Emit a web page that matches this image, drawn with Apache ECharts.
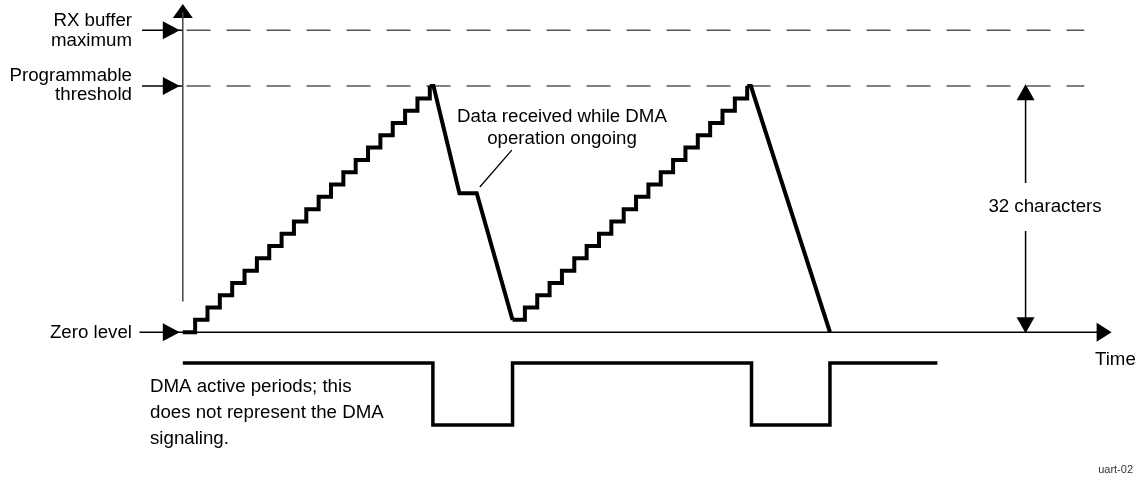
<!DOCTYPE html>
<html>
<head>
<meta charset="utf-8">
<script src="https://cdn.jsdelivr.net/npm/echarts@6/dist/echarts.min.js"></script>
<style>
  html, body { margin: 0; padding: 0; background: #fff; }
  #chart { width: 1135px; height: 481px; }
</style>
</head>
<body>
<div id="chart"></div>
<script>
// x in "character times" (one step = one received character), y in characters held in buffer
const zeroLevel = 0;
const thresholdLevel = 20;
const bufferMaxLevel = 24.55;

// first fill: one step per received character
const fill1X = [0, 1, 2, 3, 4, 5, 6, 7, 8, 9, 10, 11, 12, 13, 14, 15, 16, 17, 18, 19, 20];
const fill1Level = [0, 1, 2, 3, 4, 5, 6, 7, 8, 9, 10, 11, 12, 13, 14, 15, 16, 17, 18, 19, 20];

// DMA drain, with a character received in the middle of it
const drain1X = [20, 20.3, 22.4, 23.8, 26.7];
const drain1Level = [20, 20, 11.3, 11.3, 1];

// second fill
const fill2X = [26.7, 27.7, 28.7, 29.7, 30.7, 31.7, 32.7, 33.7, 34.7, 35.7, 36.7, 37.7, 38.7, 39.7, 40.7, 41.7, 42.7, 43.7, 44.7, 45.7];
const fill2Level = [1, 2, 3, 4, 5, 6, 7, 8, 9, 10, 11, 12, 13, 14, 15, 16, 17, 18, 19, 20];

// second drain down to zero
const drain2X = [45.7, 46.0, 52.4];
const drain2Level = [20, 20, 0];

// DMA active periods (high = idle, low = DMA running)
const dmaX = [0, 20.25, 20.25, 26.7, 26.7, 46.05, 46.05, 52.4, 52.4, 61.1];
const dmaLevel = [-2.5, -2.5, -7.55, -7.55, -2.5, -2.5, -7.55, -7.55, -2.5, -2.5];

const timeEnd = 74.6;
const dashEnd = 73;
const sizeArrowX = 68.24;

function pairs(xs, ys) {
  return xs.map((x, i) => [x, ys[i]]);
}

const font = '"Liberation Sans", Arial, sans-serif';
const black = '#000';

function plainLine(data, width, color, type) {
  return {
    type: 'line',
    data: data,
    showSymbol: false,
    silent: true,
    lineStyle: { color: color || black, width: width, type: type || 'solid', join: 'miter' }
  };
}

function arrows(data, size, rotate) {
  return {
    type: 'scatter',
    data: data,
    symbol: 'triangle',
    symbolSize: size,
    symbolRotate: rotate,
    silent: true,
    itemStyle: { color: black, opacity: 1 }
  };
}

function label(x, y, text, opts) {
  return {
    type: 'text',
    x: x,
    y: y,
    z: 50,
    silent: true,
    style: Object.assign({
      text: text,
      fill: '#000',
      fontSize: 18.7,
      fontFamily: font,
      align: 'left',
      verticalAlign: 'middle',
      lineHeight: 20
    }, opts || {})
  };
}

const chart = echarts.init(document.getElementById('chart'));

chart.setOption({
  animation: false,
  grid: { left: 0, right: 0, top: 0, bottom: 0 },
  xAxis: { type: 'value', min: -14.8, max: 77.1, show: false },
  yAxis: { type: 'value', min: -12.1, max: 27, show: false },
  series: [
    // reference levels
    plainLine([[0.3, bufferMaxLevel], [dashEnd, bufferMaxLevel]], 1.5, '#555', [24, 16]),
    plainLine([[0.3, thresholdLevel], [dashEnd, thresholdLevel]], 1.5, '#555', [24, 16]),
    // pointers from the left labels
    plainLine([[-3.3, bufferMaxLevel], [0, bufferMaxLevel]], 1.5),
    plainLine([[-3.3, thresholdLevel], [0, thresholdLevel]], 1.5),
    // axes
    plainLine([[0, 2.5], [0, 26]], 1.5, '#444'),
    plainLine([[-3.5, zeroLevel], [timeEnd, zeroLevel]], 1.5),
    // 32 characters span
    plainLine([[sizeArrowX, zeroLevel], [sizeArrowX, thresholdLevel]], 1.5),
    // annotation leader
    plainLine([[24.05, 11.8], [26.64, 14.8]], 1.3),
    // buffer fill level
    Object.assign(plainLine(pairs(fill1X, fill1Level), 4), { step: 'end' }),
    plainLine(pairs(drain1X, drain1Level), 4),
    Object.assign(plainLine(pairs(fill2X, fill2Level), 4), { step: 'end' }),
    plainLine(pairs(drain2X, drain2Level), 4),
    // DMA active
    plainLine(pairs(dmaX, dmaLevel), 3.5),
    // arrow heads
    arrows([[-0.93, bufferMaxLevel], [-0.93, thresholdLevel], [-0.93, zeroLevel]], [18, 17], -90),
    arrows([[timeEnd, zeroLevel]], [19, 15], -90),
    arrows([[0, 26.1]], [20, 14], 0),
    arrows([[sizeArrowX, 19.51]], [18, 16], 0),
    arrows([[sizeArrowX, 0.57]], [18, 16], 180)
  ],
  graphic: [
    label(132, 31, 'RX buffer\nmaximum', { align: 'right', lineHeight: 19.5 }),
    label(132, 85, 'Programmable\nthreshold', { align: 'right', lineHeight: 19 }),
    label(132, 333, 'Zero level', { align: 'right' }),
    label(562, 128, 'Data received while DMA\noperation ongoing', { align: 'center', lineHeight: 21.5 }),
    label(1045, 207, '32 characters', {
      align: 'center', backgroundColor: '#fff', padding: [14, 2, 14, 2]
    }),
    label(1095, 360, 'Time'),
    label(150, 412.5, 'DMA active periods; this\ndoes not represent the DMA\nsignaling.', { lineHeight: 26 }),
    label(1133, 470, 'uart-02', { align: 'right', fontSize: 11, fill: '#333' })
  ]
});
</script>
</body>
</html>
